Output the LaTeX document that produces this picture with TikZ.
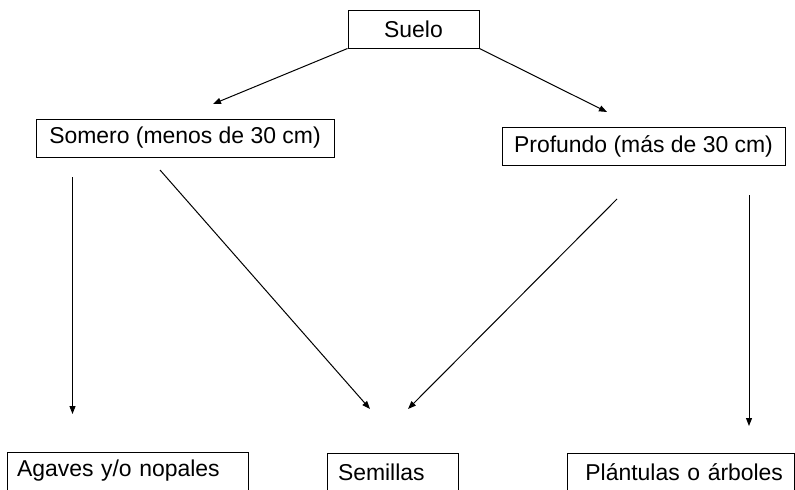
\documentclass[tikz,border=0pt]{standalone}
\usepackage{fontspec}
\setmainfont{Liberation Sans}
\usetikzlibrary{arrows.meta}

\begin{document}
\begin{tikzpicture}[x=0.75pt, y=-0.75pt, font=\fontsize{17.2}{20}\selectfont,
                    box/.style={draw, line width=0.75pt, minimum height=28.5pt, inner sep=0pt},
                    link/.style={-{Triangle[length=6pt, width=4.5pt]}, line width=0.75pt}]

    \useasboundingbox (0,0) rectangle (795,489);
    \clip (0,0) rectangle (795,489);

    \node[box, minimum width=98.25pt]   (suelo)     at (413.5, 29)  {Suelo};
    \node[box, minimum width=223.5pt]   (somero)    at (185, 138)   {Somero (menos de 30 cm)};
    \node[box, minimum width=212.25pt]  (profundo)  at (643.5, 146) {Profundo (más de 30 cm)};

    \node[box, inner xsep=7.5pt, text width=165.75pt, align=left]   (agaves)    at (127.5, 471) {Agaves y/o nopales};
    \node[box, inner xsep=8.25pt, text width=81.75pt, align=left]   (semillas)  at (392.5, 472) {Semillas};
    \node[box, inner xsep=8.25pt, text width=153.75pt, align=right] (plantulas) at (680.5, 472) {Plántulas o árboles};

    % extremos libres de las flechas
    \coordinate (toSomero)   at (213, 104);
    \coordinate (toProfundo) at (607, 112);
    \coordinate (someroA)    at (72.5, 177);
    \coordinate (toAgaves)   at (72.5, 414);
    \coordinate (someroB)    at (160, 170);
    \coordinate (toSemA)     at (370, 409);
    \coordinate (profundoA)  at (617, 199);
    \coordinate (toSemB)     at (408, 409);
    \coordinate (profundoB)  at (749, 195);
    \coordinate (toPlant)    at (749, 426);

    \draw[link] (suelo.south west) -- (toSomero);
    \draw[link] (suelo.south east) -- (toProfundo);

    \draw[link] (someroA) -- (toAgaves);
    \draw[link] (someroB) -- (toSemA);
    \draw[link] (profundoA) -- (toSemB);
    \draw[link] (profundoB) -- (toPlant);

\end{tikzpicture}
\end{document}
